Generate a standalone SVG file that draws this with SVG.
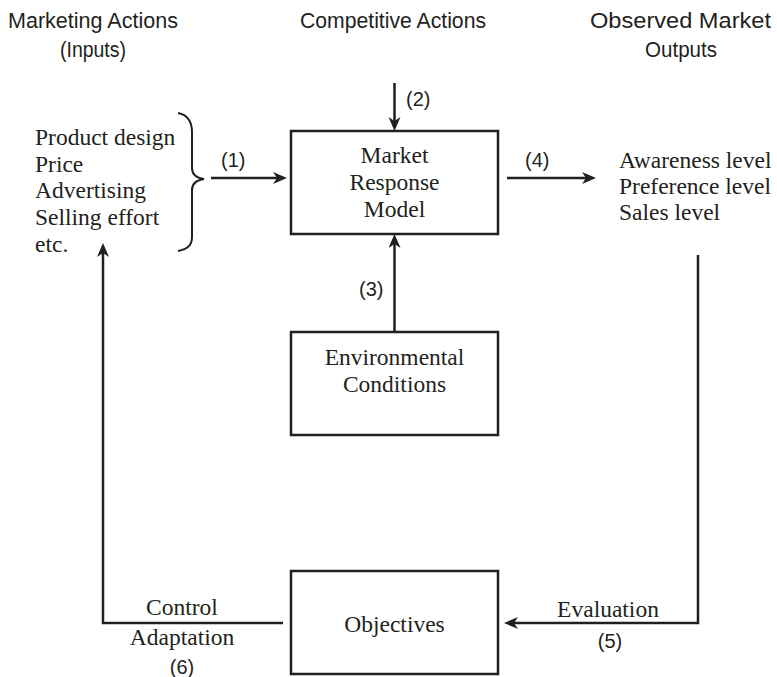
<svg xmlns="http://www.w3.org/2000/svg" width="777" height="677" viewBox="0 0 777 677">
<defs>
<style>
.box{fill:#fff;stroke:#231f20;stroke-width:2.5}
.ln{fill:none;stroke:#231f20;stroke-width:2.5}
.serif{font-family:"Liberation Serif","Times New Roman",serif;font-size:23.5px;fill:#231f20}
.sans{font-family:"Liberation Sans",Arial,sans-serif;font-size:20px;fill:#231f20}
.hdr{font-size:22px}
.mid{text-anchor:middle}
</style>
<marker id="ah" markerUnits="userSpaceOnUse" markerWidth="16" markerHeight="14" refX="10" refY="6" orient="auto">
<path d="M0,0 L14,6 L0,12 L4,6 z" fill="#231f20"/>
</marker>
</defs>
<rect width="777" height="677" fill="#fff"/>

<g id="headers">
<text class="sans hdr" x="8" y="28" textLength="170" lengthAdjust="spacingAndGlyphs">Marketing Actions</text>
<text class="sans hdr" x="60" y="57" textLength="66" lengthAdjust="spacingAndGlyphs">(Inputs)</text>
<text class="sans hdr" x="300" y="28" textLength="186" lengthAdjust="spacingAndGlyphs">Competitive Actions</text>
<text class="sans hdr" x="590" y="28" textLength="181" lengthAdjust="spacingAndGlyphs">Observed Market</text>
<text class="sans hdr" x="645" y="57" textLength="72" lengthAdjust="spacingAndGlyphs">Outputs</text>
</g>

<g id="inputs">
<text class="serif" x="35" y="145">Product design</text>
<text class="serif" x="35" y="172">Price</text>
<text class="serif" x="35" y="198">Advertising</text>
<text class="serif" x="35" y="225">Selling effort</text>
<text class="serif" x="35" y="252">etc.</text>
<path class="ln" style="stroke-width:2" d="M178,113 C188,115 192,122 192,132 L192,168 C192,175 197,178 204,179 C197,180 192,183 192,190 L192,237 C192,245 188,249 178,251"/>
</g>

<g id="outputs">
<text class="serif" x="619" y="168">Awareness level</text>
<text class="serif" x="619" y="194">Preference level</text>
<text class="serif" x="619" y="220">Sales level</text>
</g>

<g id="market-response-model">
<rect class="box" x="291" y="131" width="207" height="103"/>
<text class="serif mid" x="394.5" y="163">Market</text>
<text class="serif mid" x="394.5" y="190">Response</text>
<text class="serif mid" x="394.5" y="217">Model</text>
</g>

<g id="environmental-conditions">
<rect class="box" x="291" y="332" width="207" height="103"/>
<text class="serif mid" x="394.5" y="365">Environmental</text>
<text class="serif mid" x="394.5" y="392">Conditions</text>
</g>

<g id="objectives">
<rect class="box" x="291" y="571" width="207" height="103"/>
<text class="serif mid" x="394.5" y="632">Objectives</text>
</g>

<g id="connectors">
<path class="ln" d="M394.5,83 L394.5,127" marker-end="url(#ah)"/>
<path class="ln" d="M211,178 L283,178" marker-end="url(#ah)"/>
<path class="ln" d="M394.5,332 L394.5,238" marker-end="url(#ah)"/>
<path class="ln" d="M507,178 L592,178" marker-end="url(#ah)"/>
<path class="ln" d="M698,255 L698,623 L508,623" marker-end="url(#ah)"/>
<path class="ln" d="M283,623 L103,623 L103,247" marker-end="url(#ah)"/>
</g>

<g id="labels">
<text class="sans" x="406" y="106">(2)</text>
<text class="sans" x="221" y="167">(1)</text>
<text class="sans" x="359" y="296">(3)</text>
<text class="sans" x="525" y="167">(4)</text>
<text class="serif mid" x="608" y="617">Evaluation</text>
<text class="sans mid" x="610" y="648">(5)</text>
<text class="serif mid" x="182" y="615">Control</text>
<text class="serif mid" x="182" y="645">Adaptation</text>
<text class="sans mid" x="182" y="674">(6)</text>
</g>
</svg>
